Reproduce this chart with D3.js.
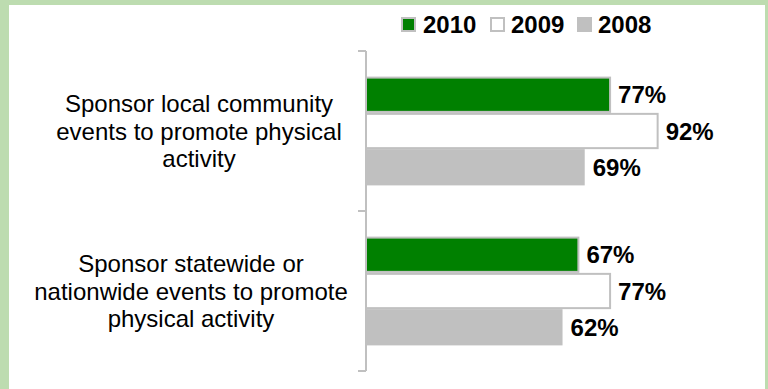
<!DOCTYPE html>
<html>
<head>
<meta charset="utf-8">
<script src="https://cdn.jsdelivr.net/npm/d3@7"></script>
<style>
  html, body { margin: 0; padding: 0; background: #bddcb0; }
  svg { display: block; }
</style>
</head>
<body>
<svg id="chart" width="768" height="389"></svg>
<script>
// Survey items and share of respondents by year
const categories = [
  "Sponsor local community events to promote physical activity",
  "Sponsor statewide or nationwide events to promote physical activity"
];
const years = ["2010", "2009", "2008"];
const values2010 = [77, 67];
const values2009 = [92, 77];
const values2008 = [69, 62];

const series = { "2010": values2010, "2009": values2009, "2008": values2008 };
const fills = { "2010": "#008000", "2009": "#ffffff", "2008": "#c0c0c0" };

const svg = d3.select("#chart");
const font = "'Liberation Sans', Arial, sans-serif";

// white panel inside the green frame
svg.append("rect")
  .attr("x", 9).attr("y", 5).attr("width", 756).attr("height", 384)
  .attr("fill", "#ffffff");

const axisX = 366;
const y = d3.scaleBand().domain(categories).range([51, 371])
  .paddingInner(0.32).paddingOuter(0.16);
const yInner = d3.scaleBand().domain(years).range([0, y.bandwidth()]);
const x = d3.scaleLinear().domain([0, 100]).range([axisX, 683]);

// category axis: plain gray line with outer ticks at band edges
const axisG = svg.append("g");
const edges = [51, 211, 371];
axisG.append("line")
  .attr("x1", axisX).attr("x2", axisX).attr("y1", 51).attr("y2", 371)
  .attr("stroke", "#c0c0c0").attr("stroke-width", 2);
axisG.selectAll("line.tick").data(edges).join("line")
  .attr("class", "tick")
  .attr("x1", axisX - 8).attr("x2", axisX)
  .attr("y1", d => d).attr("y2", d => d)
  .attr("stroke", "#c0c0c0").attr("stroke-width", 2);

// bars
const groups = svg.selectAll("g.cat").data(categories).join("g")
  .attr("class", "cat")
  .attr("transform", d => `translate(0,${y(d)})`);

groups.each(function(cat, ci) {
  const g = d3.select(this);
  const rows = years.map(yr => ({ yr, v: series[yr][ci] }));
  g.selectAll("rect").data(rows).join("rect")
    .attr("x", x(0))
    .attr("y", d => yInner(d.yr) + (d.yr === "2008" ? 0 : 1))
    .attr("width", d => x(d.v) - x(0))
    .attr("height", d => yInner.bandwidth() - (d.yr === "2008" ? 0 : 2))
    .attr("fill", d => fills[d.yr])
    .attr("stroke", d => d.yr === "2008" ? "none" : "#c0c0c0")
    .attr("stroke-width", 2);
  g.selectAll("text").data(rows).join("text")
    .attr("x", d => x(d.v) + 8)
    .attr("y", d => yInner(d.yr) + yInner.bandwidth() / 2)
    .attr("dy", "0.36em")
    .attr("font-family", font).attr("font-weight", "bold")
    .attr("font-size", 24).attr("fill", "#000")
    .text(d => d.v + "%");
});

// wrapped category labels, each centred in its own text box left of the axis
const labelCenters = [199, 191];
const maxW = 330, lineH = 27.5;
categories.forEach((cat, ci) => {
  const t = svg.append("text")
    .attr("font-family", font).attr("font-size", 24)
    .attr("text-anchor", "middle").attr("fill", "#000");
  const words = cat.split(" ");
  const lines = [];
  let cur = [];
  const probe = t.append("tspan");
  words.forEach(w => {
    const trial = cur.concat([w]).join(" ");
    probe.text(trial);
    if (probe.node().getComputedTextLength() > maxW && cur.length) {
      lines.push(cur.join(" "));
      cur = [w];
    } else cur.push(w);
  });
  lines.push(cur.join(" "));
  probe.remove();
  const cy = y(cat) + y.bandwidth() / 2;
  lines.forEach((ln, i) => {
    t.append("tspan")
      .attr("x", labelCenters[ci])
      .attr("y", cy + (i - (lines.length - 1) / 2) * lineH)
      .attr("dy", "0.36em")
      .text(ln);
  });
});

// legend
const legendItems = [
  { yr: "2010", sx: 401, tx: 423 },
  { yr: "2009", sx: 490, tx: 511 },
  { yr: "2008", sx: 577, tx: 598 }
];
const leg = svg.append("g");
legendItems.forEach(it => {
  const plain = it.yr === "2008";
  leg.append("rect")
    .attr("x", plain ? it.sx : it.sx + 1)
    .attr("y", plain ? 17 : 18)
    .attr("width", plain ? 15 : 13)
    .attr("height", plain ? 15 : 13)
    .attr("fill", fills[it.yr])
    .attr("stroke", plain ? "none" : "#c0c0c0")
    .attr("stroke-width", 2);
  leg.append("text")
    .attr("x", it.tx).attr("y", 33)
    .attr("font-family", font).attr("font-weight", "bold")
    .attr("font-size", 24).attr("fill", "#000")
    .text(it.yr);
});
</script>
</body>
</html>
